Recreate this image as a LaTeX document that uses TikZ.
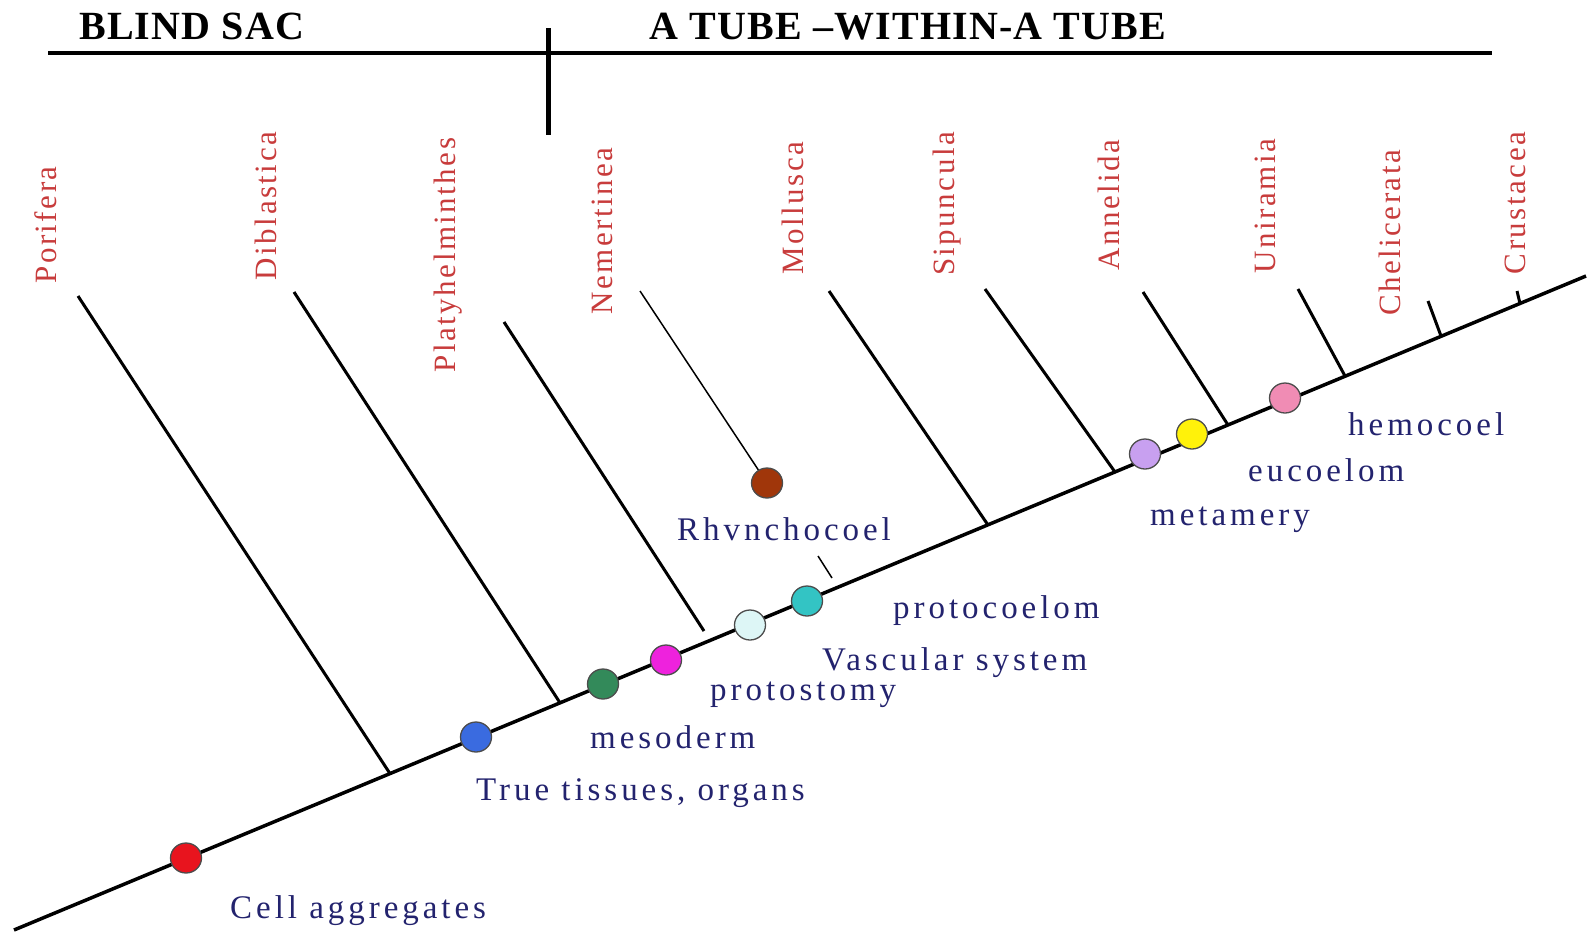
\documentclass[tikz,border=0pt]{standalone}
\usepackage{fontspec}
\setmainfont{Liberation Serif}
\newfontfamily\labfont[LetterSpace=12]{Liberation Serif}
\newfontfamily\taxfont[LetterSpace=8]{Liberation Serif}
\newfontfamily\titfont[LetterSpace=3]{Liberation Serif}
\usetikzlibrary{shapes.geometric}
\definecolor{labred}{HTML}{C83C3C}
\definecolor{labblue}{HTML}{23236E}
\definecolor{cRed}{HTML}{E8141E}
\definecolor{cBlue}{HTML}{3A6BE0}
\definecolor{cGreen}{HTML}{338A5A}
\definecolor{cMagenta}{HTML}{EE22DD}
\definecolor{cIce}{HTML}{DDF6F6}
\definecolor{cTeal}{HTML}{33C4C4}
\definecolor{cBrown}{HTML}{A0360A}
\definecolor{cLav}{HTML}{C8A0F0}
\definecolor{cYellow}{HTML}{FFF20A}
\definecolor{cPink}{HTML}{F08CB4}
\begin{document}
\begin{tikzpicture}[x=1pt,y=-1pt,
  taxon/.style={text=labred, font=\taxfont\fontsize{31}{33}\selectfont, rotate=90, anchor=base, inner sep=0pt},
  trait/.style={text=labblue, font=\labfont\fontsize{33}{35}\selectfont, anchor=base west, inner sep=0pt},
  heading/.style={font=\titfont\bfseries\fontsize{40}{44}\selectfont, anchor=base west, inner sep=0pt},
  dot/.style={ellipse, draw=black!70, line width=1.3pt, minimum width=31pt, minimum height=30pt, inner sep=0pt},
  branch/.style={line width=3pt},
  thinbranch/.style={line width=1.5pt},
  mainline/.style={line width=3.5pt}]
\useasboundingbox (0,0) rectangle (1589,935);
\fill[white] (0,0) rectangle (1589,935);

% header
\coordinate (hl) at (48,53);
\coordinate (hr) at (1492,53);
\coordinate (vt) at (548,28);
\coordinate (vb) at (548,135);
\draw[line width=4pt] (hl) -- (hr);
\draw[line width=5pt] (vt) -- (vb);
\node[heading] (blind) at (79,39) {BLIND SAC};
\node[heading] (tube) at (649,39) {A TUBE –WITHIN-A TUBE};

% main line
\coordinate (A) at (14,930);
\coordinate (B) at (1586,276);
\draw[mainline] (A) -- (B);

% branch tops and junctions
\coordinate (tPor) at (78,296);   \coordinate (jPor) at (390,773.6);
\coordinate (tDib) at (294,292);  \coordinate (jDib) at (560,702.8);
\coordinate (tPla) at (504,322);  \coordinate (jPla) at (704,631);
\coordinate (tNem) at (640,291);
\coordinate (tkA) at (818,556);   \coordinate (tkB) at (832,578);
\coordinate (tMol) at (829,291);  \coordinate (jMol) at (988,525);
\coordinate (tSip) at (985,289);  \coordinate (jSip) at (1115,472);
\coordinate (tAnn) at (1143,292); \coordinate (jAnn) at (1228,425);
\coordinate (tUni) at (1298,289); \coordinate (jUni) at (1345,376);
\coordinate (tChe) at (1428,301); \coordinate (jChe) at (1441,336);
\coordinate (tCru) at (1517,291); \coordinate (jCru) at (1520,303.5);

\draw[branch] (tPor) -- (jPor);
\draw[branch] (tDib) -- (jDib);
\draw[branch] (tPla) -- (jPla);
\draw[thinbranch] (tkA) -- (tkB);
\draw[branch] (tMol) -- (jMol);
\draw[branch] (tSip) -- (jSip);
\draw[branch] (tAnn) -- (jAnn);
\draw[branch] (tUni) -- (jUni);
\draw[branch] (tChe) -- (jChe);
\draw[branch] (tCru) -- (jCru);

% dots
\node[dot, fill=cRed] (dRed) at (186,858) {};
\node[dot, fill=cBlue] (dBlue) at (476,737) {};
\node[dot, fill=cGreen] (dGreen) at (603,684) {};
\node[dot, fill=cMagenta] (dMag) at (666,660) {};
\node[dot, fill=cIce] (dIce) at (750,625) {};
\node[dot, fill=cTeal] (dTeal) at (807,601) {};
\node[dot, fill=cLav] (dLav) at (1145,454) {};
\node[dot, fill=cYellow] (dYel) at (1192,434) {};
\node[dot, fill=cPink] (dPink) at (1285,398) {};
\node[dot, fill=cBrown] (dBrown) at (767,483) {};
\draw[thinbranch] (tNem) -- (dBrown);

% taxa
\node[taxon] (Por) at (56,225) {Porifera};
\node[taxon] (Dib) at (276,206) {Diblastica};
\node[taxon] (Pla) at (455,255) {Platyhelminthes};
\node[taxon] (Nem) at (612,231) {Nemertinea};
\node[taxon] (Mol) at (803,208) {Mollusca};
\node[taxon] (Sip) at (954,204) {Sipuncula};
\node[taxon] (Ann) at (1119,205) {Annelida};
\node[taxon] (Uni) at (1275,206) {Uniramia};
\node[taxon] (Che) at (1400,233) {Chelicerata};
\node[taxon] (Cru) at (1525,203) {Crustacea};

% traits
\node[trait] (hemo) at (1348,435) {hemocoel};
\node[trait] (euco) at (1248,481) {eucoelom};
\node[trait] (meta) at (1150,525) {metamery};
\node[trait] (rhyn) at (677,540) {Rhvnchocoel};
\node[trait] (proc) at (893,618) {protocoelom};
\node[trait] (vasc) at (822,670) {Vascular system};
\node[trait] (pros) at (710,700) {protostomy};
\node[trait] (meso) at (590,748) {mesoderm};
\node[trait] (true) at (476,800) {True tissues, organs};
\node[trait] (cell) at (230,918) {Cell aggregates};
\end{tikzpicture}
\end{document}
